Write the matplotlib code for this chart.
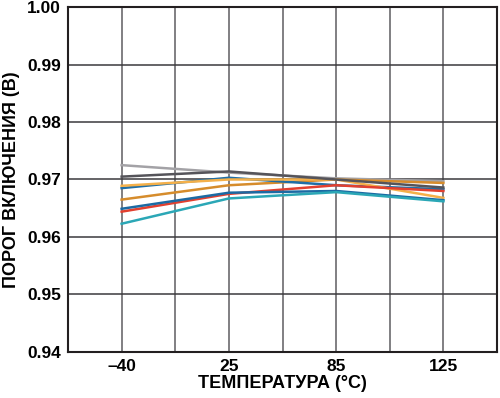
import matplotlib
matplotlib.use('Agg')
import matplotlib.pyplot as plt

plt.rcParams['font.family'] = ['Liberation Sans', 'DejaVu Sans']
plt.rcParams['font.weight'] = 'bold'

temps = ['–40', '25', '85', '125']
xpos = [1, 3, 5, 7]

gray_light = [0.9725, 0.9712, 0.9702, 0.9697]
gray_dark = [0.9705, 0.9714, 0.9700, 0.9686]
orange_light = [0.9689, 0.9700, 0.9700, 0.9668]
blue_top = [0.9685, 0.9703, 0.9690, 0.9683]
orange_dark = [0.9665, 0.9690, 0.9700, 0.9694]
blue_low = [0.9649, 0.9677, 0.9680, 0.9664]
red = [0.9644, 0.9675, 0.9690, 0.9680]
teal = [0.9623, 0.9667, 0.9678, 0.9662]

series = [
    (gray_light, '#a3a2a6'),
    (orange_dark, '#d68c2c'),
    (blue_top, '#1f6ea6'),
    (orange_light, '#f4b04a'),
    (red, '#e2402f'),
    (blue_low, '#1c6aa3'),
    (teal, '#2ba7b6'),
    (gray_dark, '#55545a'),
]

fig = plt.figure(figsize=(5, 3.98), dpi=100)
ax = fig.add_axes([0.136, 0.116, 0.858, 0.866])

for vals, c in series:
    ax.plot(xpos, vals, color=c, lw=1.8, zorder=3)

ax.set_xlim(0, 8)
ax.set_ylim(0.94, 1.00)
ax.set_xticks(range(0, 9), minor=True)
ax.set_xticks(xpos)
ax.set_xticklabels(temps)
ax.set_yticks([0.94, 0.95, 0.96, 0.97, 0.98, 0.99, 1.00])
ax.set_yticklabels(['0.94', '0.95', '0.96', '0.97', '0.98', '0.99', '1.00'])
ax.grid(True, which='both', axis='x', color='#5e5c61', lw=1.1)
ax.grid(True, which='major', axis='y', color='#3a393d', lw=1.1)
ax.tick_params(which='both', length=0, labelsize=12.5, pad=5)
for s in ax.spines.values():
    s.set_color('#231f20')
    s.set_linewidth(1.5)

ax.set_xlabel('ТЕМПЕРАТУРА (°C)', fontsize=13, fontweight='bold', labelpad=1)
ax.set_ylabel('ПОРОГ ВКЛЮЧЕНИЯ (В)', fontsize=13, fontweight='bold', labelpad=5)

fig.savefig('out.png', dpi=100)
